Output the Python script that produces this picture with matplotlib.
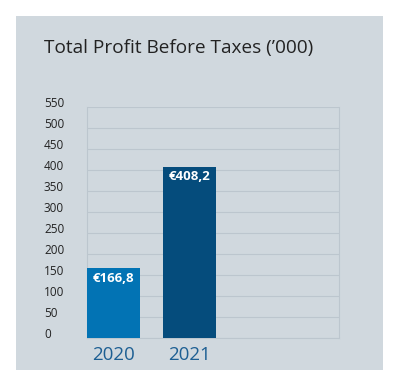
import matplotlib
matplotlib.use("Agg")
import matplotlib.pyplot as plt
from matplotlib.transforms import blended_transform_factory

years = ["2020", "2021"]
values = [166.8, 408.2]
value_labels = ["€166,8", "€408,2"]
yticks = [0, 50, 100, 150, 200, 250, 300, 350, 400, 450, 500, 550]
title = "Total Profit Before Taxes (\u2019000)"

bar_colors = ["#0273b4", "#054c7c"]
panel_color = "#d0d8de"
grid_color = "#bcc6ce"
year_color = "#1d5f93"

plt.rcParams['font.family'] = ['Open Sans', 'DejaVu Sans']

W, H = 402, 386
fig = plt.figure(figsize=(W / 100, H / 100), dpi=100)
fig.patch.set_facecolor("white")

# gray panel as a background axes
bg = fig.add_axes([16 / W, 1 - 370 / H, (383 - 16) / W, (370 - 16) / H], zorder=-10)
bg.set_facecolor(panel_color)
bg.set_xticks([]); bg.set_yticks([])
for s in bg.spines.values():
    s.set_visible(False)

ax = fig.add_axes([87 / W, 1 - 338 / H, 252 / W, 231 / H])
ax.set_facecolor("none")
x = list(range(len(years)))
ax.bar(x, values, width=0.70, color=bar_colors, zorder=3)
ax.set_xlim(-0.35, 2.966)
ax.set_ylim(0, 550)

ax.set_yticks(yticks)
ax.yaxis.grid(True, color=grid_color, linewidth=0.8, zorder=0)
ax.set_yticklabels([])
ax.tick_params(length=0)
ax.set_xticks([])
for s in ["left", "right", "bottom"]:
    ax.spines[s].set_color(grid_color)
    ax.spines[s].set_linewidth(0.8)
ax.spines["top"].set_visible(False)

# y tick labels, left-aligned at the panel margin
tr = blended_transform_factory(fig.transFigure, ax.transData)
for t in yticks:
    ax.text(44 / W, t + 8, str(t), transform=tr, ha="left", va="center",
            fontsize=8.5, color="#222222")

# bar value labels
for xi, v, lab in zip(x, values, value_labels):
    ax.text(xi, v - 24, lab, ha="center", va="center", color="white",
            fontsize=9.5, fontweight="bold", zorder=4)

# year labels
for xi, yr in zip(x, years):
    ax.text(xi, -40, yr, ha="center", va="center", color=year_color,
            fontsize=13.5, clip_on=False)

fig.text(44 / W, 1 - 48 / H, title, ha="left", va="center", fontsize=13.7, color="#222222")

fig.savefig("out.png", dpi=100, facecolor="white")
